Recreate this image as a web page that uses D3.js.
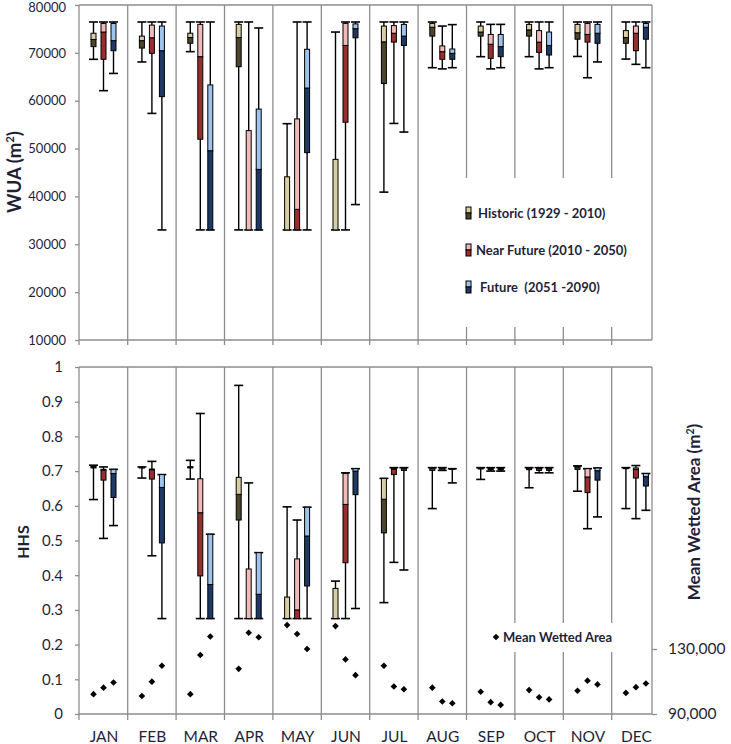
<!DOCTYPE html>
<html><head><meta charset="utf-8">
<script src="https://cdn.jsdelivr.net/npm/d3@7"></script>
<style>
body{margin:0;background:#fff}
svg{display:block}
text{font-family:Lato,"Open Sans",sans-serif;fill:#1f1f38}
</style>
</head><body>
<svg id="c" width="731" height="744"></svg>
<script>
const months = ["JAN","FEB","MAR","APR","MAY","JUN","JUL","AUG","SEP","OCT","NOV","DEC"];
const seriesNames = ["Historic (1929 - 2010)", "Near Future (2010 - 2050)", "Future  (2051 -2090)"];
const lightColors = ["#d8cea3", "#f1b9b9", "#9ec3ec"];
const darkColors  = ["#4c452d", "#9a2e2e", "#1e3a64"];

// WUA (m²): [min, q1, median, q3, max]
const wuaHistoric = [
 [68650,71300,72800,74100,76450],[68100,71000,72550,73500,76450],[70250,72000,73200,74100,76450],
 [33000,67100,73200,75950,76450],[33000,33000,33000,44100,55200],[33000,33000,33000,47750,74350],
 [40900,63600,72300,75600,76450],[66900,73500,75350,76150,76450],[69200,73500,74350,75600,76450],
 [69200,73500,74800,75950,76450],[69250,72850,74200,75950,76450],[68700,72000,73200,74650,76450]];
const wuaNear = [
 [62100,68650,74350,76150,76450],[57350,69900,73150,75800,76450],[33000,51950,69200,75950,76450],
 [33000,33000,33000,53750,76450],[33000,33000,37300,56200,76450],[33000,55500,71550,76150,76450],
 [55250,72250,74100,75700,76450],[66650,68650,70250,71450,75600],[66650,68850,71800,73850,75950],
 [66650,70100,72250,74650,76450],[64800,72250,73850,76150,76450],[67600,70450,74100,75600,76450]];
const wuaFuture = [
 [65700,70450,72550,76150,76450],[33000,60850,70450,75600,76450],[33000,33000,49550,63300,76450],
 [33000,33000,45650,58250,75200],[33000,49150,62650,70750,76450],[38300,73150,75050,76050,76450],
 [53450,71550,73500,75950,76450],[66900,68650,69900,70800,75900],[66900,69200,71300,73850,75950],
 [66900,69550,71550,74350,76450],[68100,72000,74100,75950,76450],[66900,72850,75350,76150,76450]];

// HHS: [min, q1, median, q3, max]
const hhsHistoric = [
 [0.618,0.709,0.712,0.715,0.717],[0.680,0.709,0.710,0.711,0.712],[0.677,0.709,0.711,0.713,0.731],
 [0.275,0.559,0.633,0.682,0.947],[0.275,0.275,0.275,0.337,0.597],[0.275,0.275,0.275,0.362,0.383],
 [0.321,0.522,0.619,0.679,0.679],[0.592,0.702,0.708,0.710,0.710],[0.676,0.706,0.708,0.710,0.710],
 [0.652,0.704,0.708,0.710,0.710],[0.642,0.705,0.712,0.715,0.715],[0.592,0.707,0.709,0.710,0.710]];
const hhsNear = [
 [0.506,0.674,0.703,0.705,0.712],[0.456,0.677,0.704,0.706,0.728],[0.275,0.398,0.580,0.678,0.866],
 [0.275,0.275,0.275,0.418,0.666],[0.275,0.275,0.300,0.447,0.559],[0.275,0.436,0.604,0.693,0.695],
 [0.437,0.690,0.706,0.709,0.710],[0.702,0.703,0.708,0.710,0.710],[0.700,0.703,0.706,0.708,0.710],
 [0.695,0.702,0.707,0.710,0.710],[0.534,0.638,0.683,0.707,0.707],[0.563,0.680,0.705,0.709,0.716]];
const hhsFuture = [
 [0.543,0.624,0.693,0.705,0.705],[0.275,0.493,0.653,0.690,0.690],[0.275,0.275,0.373,0.518,0.518],
 [0.275,0.275,0.345,0.465,0.465],[0.275,0.369,0.513,0.596,0.596],[0.304,0.632,0.700,0.707,0.707],
 [0.415,0.702,0.708,0.710,0.710],[0.666,0.705,0.706,0.707,0.707],[0.700,0.703,0.706,0.708,0.710],
 [0.695,0.702,0.707,0.710,0.710],[0.568,0.674,0.701,0.709,0.709],[0.587,0.657,0.684,0.693,0.693]];

// Mean wetted area (m²)
const mwaHistoric = [102200,101100,102200,117800,144700,144100,119700,106200,103700,104700,104300,103000];
const mwaNear     = [106200,109900,126300,140000,139200,123600,106900, 97700, 97300,100300,110500,106500];
const mwaFuture   = [109400,119700,137700,137200,130000,113900,105200, 96600, 95600, 99000,108200,108800];

const wuaTicks = [10000,20000,30000,40000,50000,60000,70000,80000];
const hhsTicks = [0,0.1,0.2,0.3,0.4,0.5,0.6,0.7,0.8,0.9,1];
const mwaTicks = [90000,130000];

const wuaSeries = [wuaHistoric, wuaNear, wuaFuture];
const hhsSeries = [hhsHistoric, hhsNear, hhsFuture];
const mwaSeries = [mwaHistoric, mwaNear, mwaFuture];

// ---------- layout ----------
const svg = d3.select("#c");
const L = 79, R = 652;
const topY0 = 340, topY1 = 5, botY0 = 714, botY1 = 367;
const gridCol = "#8d8d8d";

const x = d3.scaleBand().domain(months).range([79.3, 79.3 + 48.4*12]);
const xs = d3.scaleBand().domain([0,1,2]).range([-15, 15]);
const yW = d3.scaleLinear().domain([10000, 80000]).range([topY0, topY1]);
const yH = d3.scaleLinear().domain([0, 1]).range([botY0, botY1]);
const yM = d3.scaleLinear().domain([90000, 130000]).range([botY0, 649]);

const boxW = 5, capW = 9;

function panel(yTop, yBot, tickLen) {
  const g = svg.append("g");
  months.forEach((m, i) => {
    if (i === 0) return;
    g.append("line").attr("x1", x(m)).attr("x2", x(m)).attr("y1", yTop).attr("y2", yBot + tickLen)
      .attr("stroke", gridCol).attr("stroke-width", 1.3);
  });
  g.append("line").attr("x1", L).attr("x2", L).attr("y1", yTop).attr("y2", yBot + tickLen)
    .attr("stroke", gridCol).attr("stroke-width", 1.3);
  g.append("line").attr("x1", L).attr("x2", R).attr("y1", yTop).attr("y2", yTop).attr("stroke", gridCol).attr("stroke-width", 1.3);
  g.append("line").attr("x1", L).attr("x2", R).attr("y1", yBot).attr("y2", yBot).attr("stroke", gridCol).attr("stroke-width", 1.3);
  g.append("line").attr("x1", R).attr("x2", R).attr("y1", yTop).attr("y2", yBot).attr("stroke", gridCol).attr("stroke-width", 1.3);
  return g;
}

panel(topY1, topY0, 5);
panel(botY1, botY0, 6);

// legend backgrounds (cover separators)
svg.append("rect").attr("x", 461).attr("y", 178).attr("width", 180).attr("height", 149).attr("fill", "#fff");
svg.append("rect").attr("x", 487).attr("y", 623).attr("width", 136).attr("height", 29).attr("fill", "#fff");

// left axes
const axW = d3.axisLeft(yW).tickValues(wuaTicks).tickSize(4).tickFormat(d3.format("d"));
const gW = svg.append("g").attr("transform", `translate(${L},0)`).call(axW);
const axH = d3.axisLeft(yH).tickValues(hhsTicks).tickSize(4).tickFormat(d => d === 0 ? "0" : d === 1 ? "1" : d3.format(".1f")(d));
const gH = svg.append("g").attr("transform", `translate(${L},0)`).call(axH);
const axM = d3.axisRight(yM).tickValues(mwaTicks).tickSize(5).tickFormat(d3.format(","));
const gM = svg.append("g").attr("transform", `translate(${R},0)`).call(axM);
[gW, gH, gM].forEach(g => {
  g.select(".domain").remove();
  g.selectAll(".tick line").attr("stroke", gridCol).attr("stroke-width", 1.3);
  g.selectAll("text").style("font-family", "Lato, 'Open Sans', sans-serif").attr("fill", "#1f1f38");
});
gW.selectAll("text").attr("font-size", 13).attr("x", -13);
gW.selectAll(".tick").filter(d => d === 80000).select("text").attr("dy", "0.5em");
gH.selectAll("text").attr("font-size", 15).attr("x", -16);
gM.selectAll("text").attr("font-size", 15.5).attr("x", 16);

// month labels
svg.append("g").selectAll("text").data(months).join("text")
  .attr("x", m => x(m) + x.bandwidth()/2 + 0.5).attr("y", 742)
  .attr("text-anchor", "middle").attr("font-size", 15.5).text(m => m);

// box plots
function drawBoxes(seriesData, y) {
  seriesData.forEach((data, s) => {
    const g = svg.append("g");
    data.forEach((d, i) => {
      const cx = x(months[i]) + x.bandwidth()/2 + xs(s) + xs.bandwidth()/2;
      const [mn, q1, md, q3, mx] = d;
      g.append("line").attr("x1", cx).attr("x2", cx).attr("y1", y(mn)).attr("y2", y(mx))
        .attr("stroke", "#000").attr("stroke-width", 1.4);
      [mn, mx].forEach(v => g.append("line").attr("x1", cx - capW/2).attr("x2", cx + capW/2)
        .attr("y1", y(v)).attr("y2", y(v)).attr("stroke", "#000").attr("stroke-width", 1.6));
      if (md > q1) g.append("rect").attr("x", cx - boxW/2).attr("width", boxW)
        .attr("y", y(md)).attr("height", y(q1) - y(md))
        .attr("fill", darkColors[s]).attr("stroke", "#000").attr("stroke-width", 1);
      if (q3 > md) g.append("rect").attr("x", cx - boxW/2).attr("width", boxW)
        .attr("y", y(q3)).attr("height", y(md) - y(q3))
        .attr("fill", lightColors[s]).attr("stroke", "#000").attr("stroke-width", 1);
    });
  });
}
drawBoxes(wuaSeries, yW);
drawBoxes(hhsSeries, yH);

// diamonds
const diamond = { draw(ctx, size) { const r = Math.sqrt(size/2);
  ctx.moveTo(0,-r); ctx.lineTo(r,0); ctx.lineTo(0,r); ctx.lineTo(-r,0); ctx.closePath(); } };
const sym = d3.symbol().type(diamond).size(22);
mwaSeries.forEach((data, s) => {
  svg.append("g").selectAll("path").data(data).join("path")
    .attr("d", sym)
    .attr("transform", (v, i) => `translate(${x(months[i]) + x.bandwidth()/2 + xs(s) + xs.bandwidth()/2},${yM(v)})`)
    .attr("fill", "#000");
});

// top legend
const legY = [213, 250, 287];
seriesNames.forEach((name, s) => {
  const lx = 466;
  svg.append("rect").attr("x", lx).attr("y", legY[s] - 6).attr("width", 5).attr("height", 6)
    .attr("fill", lightColors[s]).attr("stroke", "#000").attr("stroke-width", 1);
  svg.append("rect").attr("x", lx).attr("y", legY[s]).attr("width", 5).attr("height", 6)
    .attr("fill", darkColors[s]).attr("stroke", "#000").attr("stroke-width", 1);
  svg.append("text").attr("x", s === 1 ? 476 : (s === 2 ? 480 : 478)).attr("y", legY[s] + 5)
    .attr("font-size", 13).attr("font-weight", "bold").style("white-space", "pre").text(name);
});

// bottom legend
svg.append("path").attr("d", sym).attr("transform", "translate(496,637)").attr("fill", "#000");
svg.append("text").attr("x", 503).attr("y", 641.5).attr("font-size", 13).attr("font-weight", "bold").text("Mean Wetted Area");

// axis titles
function vtitle(xp, yp, size, parts) {
  const t = svg.append("text").attr("transform", `translate(${xp},${yp}) rotate(-90)`)
    .attr("text-anchor", "middle").attr("font-size", size).attr("font-weight", "bold");
  parts.forEach(p => {
    const ts = t.append("tspan").text(p.t);
    if (p.sup) ts.attr("font-size", size*0.62).attr("dy", -size*0.38);
    if (p.after) ts.attr("dy", size*0.38);
  });
}
vtitle(21, 172, 18.5, [{t:"WUA (m"},{t:"2",sup:true},{t:")",after:true}]);
vtitle(28.5, 542, 16, [{t:"HHS"}]);
vtitle(700, 512, 17, [{t:"Mean Wetted Area (m"},{t:"2",sup:true},{t:")",after:true}]);
</script>
</body></html>
